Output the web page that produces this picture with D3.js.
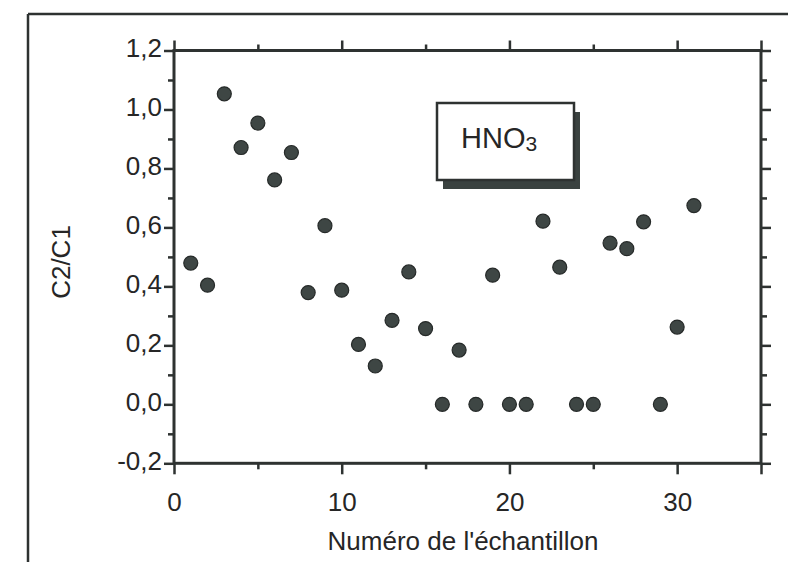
<!DOCTYPE html>
<html>
<head>
<meta charset="utf-8">
<script src="https://cdn.jsdelivr.net/npm/d3@7"></script>
<style>
  html, body { margin: 0; padding: 0; background: #ffffff; }
  svg { display: block; }
  text { font-family: "Liberation Sans", Arial, Helvetica, sans-serif; fill: #262626; }
</style>
</head>
<body>
<svg id="chart" width="788" height="562"></svg>
<script>
// ---- data ----
const sampleNumbers = [1,2,3,4,5,6,7,8,9,10,11,12,13,14,15,16,17,18,19,20,21,22,23,24,25,26,27,28,29,30,31];
const ratioValues   = [0.479,0.404,1.053,0.871,0.954,0.761,0.854,0.379,0.606,0.387,0.203,0.130,0.285,0.449,0.257,0.0,0.184,0.0,0.438,0.0,0.0,0.621,0.465,0.0,0.0,0.547,0.528,0.619,0.0,0.262,0.674];
const xMajorTicks = [0,10,20,30,35];
const xMinorTicks = [5,15,25];
const xTickLabels = ["0","10","20","30",""];
const yMajorTicks = [-0.2,0.0,0.2,0.4,0.6,0.8,1.0,1.2];
const yMinorTicks = [-0.1,0.1,0.3,0.5,0.7,0.9,1.1];
const yTickLabels = ["-0,2","0,0","0,2","0,4","0,6","0,8","1,0","1,2"];
const xTitle = "Numéro de l'échantillon";
const yTitle = "C2/C1";
const legendMain = "HNO";
const legendSub = "3";

// ---- layout ----
const svg = d3.select("#chart");
const L = 174, R = 761, T = 50.5, B = 463.3;
const x = d3.scaleLinear().domain([0,35]).range([L,R]);
const y = d3.scaleLinear().domain([-0.2,1.2]).range([B,T]);
const ink = "#2e3231";

// outer frame (scanned page border)
svg.append("line").attr("x1",28).attr("y1",14).attr("x2",788).attr("y2",14)
  .attr("stroke",ink).attr("stroke-width",2.5);
svg.append("line").attr("x1",28).attr("y1",14).attr("x2",28).attr("y2",562)
  .attr("stroke",ink).attr("stroke-width",2.5);

function styleAxis(g){
  g.select(".domain").remove();
  g.selectAll(".tick line").attr("stroke",ink).attr("stroke-width",2.5);
  g.selectAll(".tick text").attr("font-size",26).attr("fill","#262626");
}

// bottom axis
const xLabel = d => xTickLabels[xMajorTicks.indexOf(d)];
svg.append("g").attr("transform",`translate(0,${B})`)
  .call(d3.axisBottom(x).tickValues(xMajorTicks).tickSize(11).tickPadding(10).tickFormat(xLabel))
  .call(styleAxis)
  .call(g=>g.selectAll(".tick text").attr("dy",null).attr("y",48));
svg.append("g").attr("transform",`translate(0,${B})`)
  .call(d3.axisBottom(x).tickValues(xMinorTicks).tickSize(6).tickFormat(""))
  .call(styleAxis);
// top axis
svg.append("g").attr("transform",`translate(0,${T})`)
  .call(d3.axisTop(x).tickValues(xMajorTicks).tickSize(10).tickFormat(""))
  .call(styleAxis);
svg.append("g").attr("transform",`translate(0,${T})`)
  .call(d3.axisTop(x).tickValues(xMinorTicks).tickSize(6).tickFormat(""))
  .call(styleAxis);
// left axis
const yLabel = d => yTickLabels[yMajorTicks.findIndex(v=>Math.abs(v-d)<1e-9)];
svg.append("g").attr("transform",`translate(${L},0)`)
  .call(d3.axisLeft(y).tickValues(yMajorTicks).tickSize(10).tickPadding(2).tickFormat(yLabel))
  .call(styleAxis)
  .call(g=>g.selectAll(".tick text").attr("dy",null).attr("y",6));
svg.append("g").attr("transform",`translate(${L},0)`)
  .call(d3.axisLeft(y).tickValues(yMinorTicks).tickSize(6).tickFormat(""))
  .call(styleAxis);
// right axis
svg.append("g").attr("transform",`translate(${R},0)`)
  .call(d3.axisRight(y).tickValues(yMajorTicks).tickSize(10).tickFormat(""))
  .call(styleAxis);
svg.append("g").attr("transform",`translate(${R},0)`)
  .call(d3.axisRight(y).tickValues(yMinorTicks).tickSize(6).tickFormat(""))
  .call(styleAxis);

// plot frame
svg.append("rect").attr("x",L).attr("y",T).attr("width",R-L).attr("height",B-T)
  .attr("fill","none").attr("stroke",ink).attr("stroke-width",3);

// points
svg.append("g").selectAll("circle")
  .data(sampleNumbers.map((n,i)=>({n, v: ratioValues[i]})))
  .join("circle")
  .attr("cx",d=>x(d.n)).attr("cy",d=>y(d.v)).attr("r",7)
  .attr("fill","#3e4644").attr("stroke","#262a29").attr("stroke-width",1.2);

// legend box with drop shadow
const bx = 437, by = 103, bw = 137, bh = 77;
svg.append("rect").attr("x",bx+6).attr("y",by+9).attr("width",bw).attr("height",bh)
  .attr("fill","#3a4240");
svg.append("rect").attr("x",bx).attr("y",by).attr("width",bw).attr("height",bh)
  .attr("fill","#ffffff").attr("stroke",ink).attr("stroke-width",2.5);
const lt = svg.append("text").attr("x",461).attr("y",148).attr("font-size",29);
lt.append("tspan").text(legendMain);
lt.append("tspan").attr("font-size",21).attr("dy",3).text(legendSub);

// axis titles
svg.append("text").attr("x",463).attr("y",549.5).attr("text-anchor","middle")
  .attr("font-size",26).text(xTitle);
svg.append("text").attr("transform","translate(70,262) rotate(-90)")
  .attr("text-anchor","middle").attr("font-size",26).text(yTitle);
</script>
</body>
</html>
